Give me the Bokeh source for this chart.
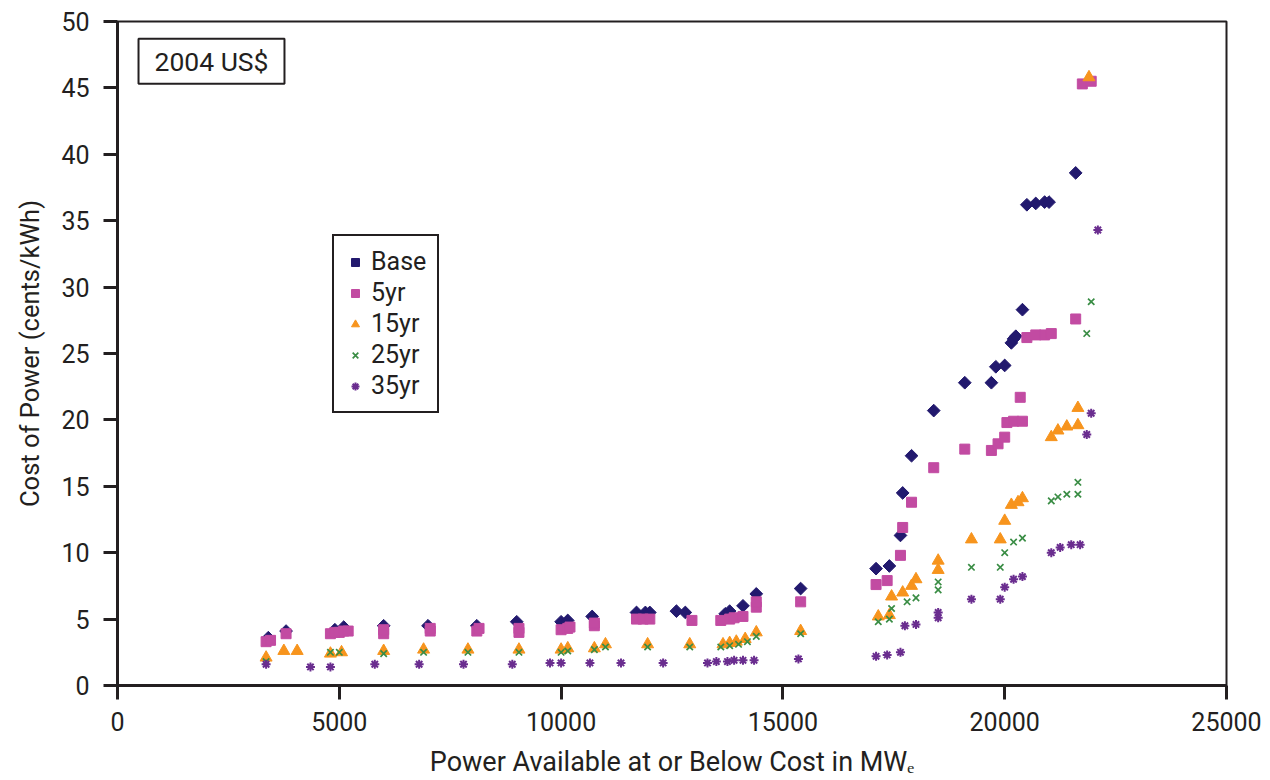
import math
from bokeh.plotting import figure
from bokeh.models import Legend, LegendItem, Label, FixedTicker
from bokeh.embed import file_html
from bokeh.resources import INLINE

FONT = "Roboto"

# ---------------- data ----------------
base_x = [3400, 3800, 4900, 5100, 6000, 7000, 8100, 9000, 10000, 10150, 10700,
          11700, 11900, 12000, 12600, 12800, 13700, 13800, 14100, 14400, 15400,
          17100, 17400, 17650, 17700, 17900, 18400, 19100, 19700, 19800, 20000,
          20150, 20200, 20250, 20400, 20500, 20700, 20900, 21000, 21600]
base_y = [3.6, 4.1, 4.2, 4.4, 4.5, 4.5, 4.5, 4.8, 4.8, 4.9, 5.2,
          5.5, 5.5, 5.5, 5.6, 5.5, 5.4, 5.6, 6.0, 6.9, 7.3,
          8.8, 9.0, 11.3, 14.5, 17.3, 20.7, 22.8, 22.8, 24.0, 24.1,
          25.8, 26.1, 26.3, 28.3, 36.2, 36.3, 36.4, 36.4, 38.6]

yr5_x = [3350, 3450, 3800, 4800, 4900, 5000, 5100, 5200, 6000, 6000, 7050, 7050,
         8100, 8150, 9050, 9050, 10000, 10150, 10200, 10750, 10750, 11700, 11850,
         12000, 12950, 13600, 13800, 13900, 14100, 14400, 14400, 15400, 17100,
         17350, 17650, 17700, 17900, 18400, 19100, 19700, 19850, 20000, 20050,
         20200, 20400, 20350, 20500, 20700, 20900, 21050, 21600, 21750, 21950]
yr5_y = [3.3, 3.4, 3.9, 3.9, 4.0, 4.0, 4.1, 4.1, 3.9, 4.2, 4.1, 4.3,
         4.1, 4.3, 4.0, 4.3, 4.2, 4.3, 4.4, 4.5, 4.7, 5.0, 5.0,
         5.0, 4.9, 4.9, 5.0, 5.1, 5.2, 5.9, 6.3, 6.3, 7.6,
         7.9, 9.8, 11.9, 13.8, 16.4, 17.8, 17.7, 18.2, 18.7, 19.8,
         19.9, 19.9, 21.7, 26.2, 26.4, 26.4, 26.5, 27.6, 45.3, 45.5]

yr15_x = [3350, 3750, 4050, 4800, 5050, 6000, 6900, 7900, 9050, 10000, 10150,
          10750, 11000, 11950, 12900, 13650, 13800, 13950, 14150, 14400, 15400,
          17150, 17400, 17450, 17700, 17900, 18000, 18500, 18500, 19250, 19900,
          20000, 20150, 20300, 20400, 21050, 21200, 21400, 21650, 21650, 21900]
yr15_y = [2.1, 2.6, 2.6, 2.4, 2.5, 2.6, 2.7, 2.7, 2.7, 2.7, 2.8,
          2.8, 3.1, 3.1, 3.1, 3.1, 3.2, 3.3, 3.5, 4.0, 4.1,
          5.2, 5.3, 6.7, 7.0, 7.5, 8.0, 8.7, 9.4, 11.0, 11.0,
          12.4, 13.6, 13.8, 14.1, 18.7, 19.2, 19.5, 19.6, 20.9, 45.8]

yr25_x = [3350, 4800, 5000, 6000, 6900, 7900, 9050, 10000, 10150, 10750, 11000,
          11950, 12900, 13600, 13800, 14000, 14200, 14400, 15400, 17150, 17400,
          17450, 17800, 18000, 18500, 18500, 19250, 19900, 20000, 20200, 20400,
          21050, 21200, 21400, 21650, 21650, 21850, 21950]
yr25_y = [1.8, 2.5, 2.5, 2.4, 2.5, 2.5, 2.5, 2.5, 2.6, 2.7, 2.9,
          2.9, 2.9, 2.9, 3.0, 3.1, 3.3, 3.7, 3.9, 4.8, 5.0,
          5.8, 6.3, 6.6, 7.2, 7.8, 8.9, 8.9, 10.0, 10.8, 11.1,
          13.9, 14.2, 14.4, 14.4, 15.3, 26.5, 28.9]

yr35_x = [3350, 4350, 4800, 5800, 6800, 7800, 8900, 9750, 10000, 10650, 11350,
          12300, 13300, 13500, 13750, 13900, 14100, 14350, 15350, 17100, 17350,
          17650, 17750, 18000, 18500, 18500, 19250, 19900, 20000, 20200, 20400,
          21050, 21250, 21500, 21700, 21850, 21950, 22100]
yr35_y = [1.6, 1.4, 1.4, 1.6, 1.6, 1.6, 1.6, 1.7, 1.7, 1.7, 1.7,
          1.7, 1.7, 1.8, 1.8, 1.9, 1.9, 1.9, 2.0, 2.2, 2.3,
          2.5, 4.5, 4.6, 5.1, 5.5, 6.5, 6.5, 7.4, 8.0, 8.2,
          10.0, 10.4, 10.6, 10.6, 18.9, 20.5, 34.3]

series_names = ["Base", "5yr", "15yr", "25yr", "35yr"]
x_ticks = [0, 5000, 10000, 15000, 20000, 25000]
y_ticks = [0, 5, 10, 15, 20, 25, 30, 35, 40, 45, 50]

# ---------------- figure ----------------
p = figure(width=1262, height=780, output_backend="svg", toolbar_location=None,
           x_range=(0, 25000), y_range=(0, 50),
           min_border_left=117, min_border_right=36, min_border_top=21,
           min_border_bottom=94)
p.background_fill_color = "white"
p.border_fill_color = "white"
p.grid.visible = False
p.outline_line_color = "#231f20"
p.outline_line_width = 2

AXC = "#231f20"
for ax in (p.xaxis[0], p.yaxis[0]):
    ax.axis_line_color = AXC
    ax.axis_line_width = 3
    ax.major_tick_line_color = AXC
    ax.major_tick_line_width = 3
    ax.major_tick_out = 14
    ax.major_tick_in = 0
    ax.minor_tick_line_color = None
    ax.major_label_text_font = FONT
    ax.major_label_text_font_size = "25px"
    ax.major_label_text_color = "#231f20"
    ax.axis_label_text_font = FONT
    ax.axis_label_text_font_style = "normal"
    ax.axis_label_text_color = "#231f20"
p.xaxis[0].ticker = FixedTicker(ticks=x_ticks)
p.yaxis[0].ticker = FixedTicker(ticks=y_ticks)
p.xaxis[0].major_label_standoff = 12
p.yaxis[0].major_label_standoff = 14
p.xaxis[0].axis_label = "Power Available at or Below Cost in MW\u2091"
p.xaxis[0].axis_label_text_font_size = "27px"
p.xaxis[0].axis_label_standoff = 12
p.yaxis[0].axis_label = "Cost of Power (cents/kWh)"
p.yaxis[0].axis_label_text_font_size = "25.5px"
p.yaxis[0].axis_label_standoff = 13

r_base = p.scatter(base_x, base_y, marker="square", angle=math.pi / 4, size=9,
                   fill_color="#22196e", line_color="#22196e")
r_5 = p.scatter(yr5_x, yr5_y, marker="square", size=10,
                fill_color="#c24ba2", line_color="#c24ba2")
r_15 = p.scatter(yr15_x, yr15_y, marker="triangle", size=12,
                 fill_color="#f7941d", line_color="#f7941d")
r_25 = p.scatter(yr25_x, yr25_y, marker="x", size=9, line_width=1.7,
                 line_color="#3a8d45")
r_35 = p.scatter(yr35_x, yr35_y, marker="asterisk", size=9, line_width=2,
                 line_color="#6a2d8f")

legend = Legend(items=[LegendItem(label=n, renderers=[r]) for n, r in
                       zip(series_names, [r_base, r_5, r_15, r_25, r_35])],
                location=(215, 272))
legend.label_text_font = FONT
legend.label_text_font_size = "25px"
legend.label_text_color = "#231f20"
legend.label_height = 28
legend.glyph_height = 28
legend.glyph_width = 20
legend.label_standoff = 6
legend.spacing = 2
legend.padding = 11
legend.margin = 0
legend.border_line_color = "#231f20"
legend.border_line_alpha = 1.0
legend.border_line_width = 2
legend.background_fill_color = "white"
legend.background_fill_alpha = 1
p.add_layout(legend, "center")

# "2004 US$" box
p.add_layout(Label(x=2119, y=47.0, text="2004 US$", text_align="center",
                   text_baseline="middle", text_font=FONT,
                   text_font_size="26.5px", text_color="#231f20",
                   border_line_color="#231f20", border_line_width=2,
                   background_fill_color="white",
                   padding=dict(left=16, right=16, top=7, bottom=7)))

open("out.html", "w").write(file_html(p, INLINE))
